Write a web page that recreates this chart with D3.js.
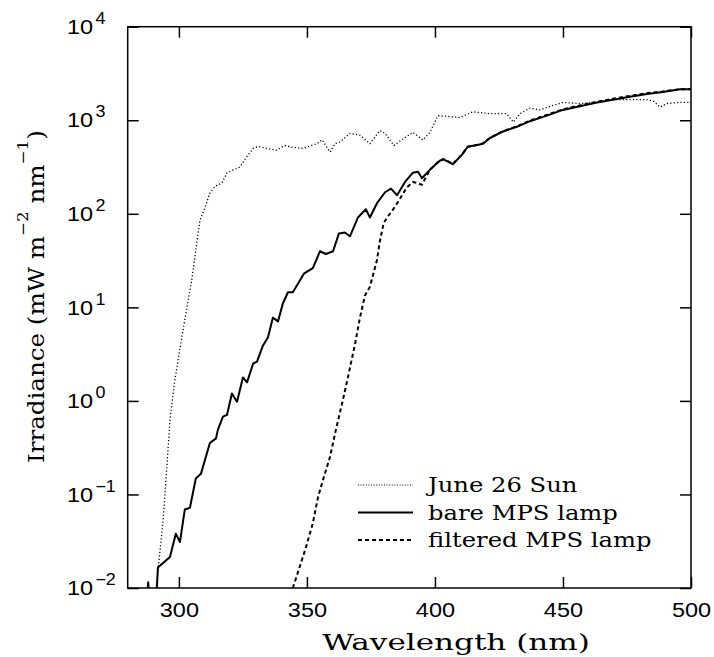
<!DOCTYPE html>
<html>
<head lang="en">
    <meta charset="UTF-8">
    <title>Irradiance</title>
    <style>
        body { margin: 0; background: #fff; }
    </style>
</head>
<body>
<svg width="714" height="657"></svg>
<script src="https://cdn.jsdelivr.net/npm/d3@7"></script>
<script>
    // June 26 Sun (dotted)
    var sunWl = [290.8, 292.0, 293.8, 295.2, 296.5, 298.4, 301.6, 305.0, 308.2, 310.2, 312.1, 314.0, 316.8, 318.8,
        323.8, 326.5, 329.0, 331.0, 334.4, 338.0, 341.4, 344.5, 348.4, 353.9, 355.9, 359.0, 361.0, 363.0, 366.8,
        370.7, 374.6, 378.5, 380.5, 384.0, 387.5, 391.4, 395.3, 398.0, 401.2, 404.7, 409.8, 414.8, 421.5, 428.0,
        430.6, 433.2, 437.1, 441.0, 445.0, 450.0, 456.6, 463.3, 469.5, 476.2, 482.8, 485.5, 487.9, 490.6, 495.7, 500.0];
    var sunVal = [0.008, 0.017, 0.052, 0.18, 0.62, 1.66, 5.7, 19.5, 85, 117, 166, 195, 214, 275,
        316, 407, 500, 525, 500, 479, 537, 513, 500, 562, 617, 457, 562, 589, 724,
        692, 562, 776, 724, 537, 631, 741, 617, 741, 1120, 1100, 1070, 1230, 1175, 1175,
        955, 1175, 1350, 1290, 1410, 1550, 1510, 1550, 1660, 1660, 1660, 1590, 1380, 1510, 1550, 1550];

    // bare MPS lamp (solid)
    var bareWl = [287.4, 288.0, 288.6, 291.2, 291.4, 291.8, 296.5, 298.8, 300.4, 302.3, 304.3, 306.6, 308.6,
        312.1, 314.5, 315.2, 317.2, 318.8, 320.7, 322.7, 325.0, 326.6, 329.0, 330.5, 332.8, 334.8, 336.7, 338.7,
        340.6, 342.6, 344.5, 348.8, 352.3, 355.1, 357.4, 360.2, 362.5, 364.8, 366.8, 369.9, 373.0, 374.6, 377.3,
        380.5, 382.8, 385.2, 388.3, 391.4, 393.4, 394.9, 398.0, 402.0, 403.5, 407.0, 410.5, 412.9, 415.6, 418.7,
        421.5, 426.6, 432.0, 437.1, 443.7, 450.0, 456.6, 463.3, 469.5, 476.2, 482.8, 489.0, 495.7, 500.0];
    var bareVal = [0.007, 0.0115, 0.007, 0.008, 0.010, 0.0166, 0.0214, 0.038, 0.031, 0.069, 0.072, 0.148, 0.166,
        0.355, 0.398, 0.49, 0.68, 0.71, 1.20, 0.98, 1.78, 1.58, 2.51, 2.63, 3.89, 4.79, 7.76, 7.08,
        11.0, 14.5, 14.5, 22.9, 26.3, 39.8, 37.2, 39.8, 61.7, 63.1, 57.5, 91.2, 112, 91.2, 129,
        170, 186, 158, 219, 275, 282, 240, 295, 372, 380, 339, 427, 525, 537, 562,
        646, 759, 851, 977, 1120, 1290, 1410, 1550, 1660, 1780, 1910, 2000, 2140, 2140];

    // filtered MPS lamp (dashed)
    var filtWl = [344.5, 349.2, 352.3, 354.3, 356.2, 359.0, 361.3, 363.7, 366.0, 368.8, 370.7, 372.7, 374.6,
        377.3, 378.5, 380.0, 381.3, 383.0, 385.2, 389.0, 391.4, 393.0, 394.9, 398.0, 402.0, 403.5, 407.0, 410.5,
        412.9, 415.6, 418.7, 421.5, 426.6, 432.0, 437.1, 443.7, 450.0, 456.6, 463.3, 469.5, 476.2, 482.8, 489.0,
        495.7, 500.0];
    var filtVal = [0.010, 0.025, 0.049, 0.093, 0.141, 0.251, 0.49, 0.93, 1.78, 4.07, 7.76, 13.5, 16.6,
        31.6, 51, 80, 91, 105, 129, 191, 219, 214, 204, 295, 375, 385, 342, 430,
        520, 540, 565, 650, 765, 860, 990, 1140, 1310, 1440, 1580, 1700, 1820, 1950, 2030,
        2150, 2150];

    var xTicks = [300, 350, 400, 450, 500];
    var yTicks = [1e-2, 1e-1, 1e0, 1e1, 1e2, 1e3, 1e4];
    var yExp = ["\u22122", "\u22121", "0", "1", "2", "3", "4"];
    var legendNames = ["June 26 Sun", "bare MPS lamp", "filtered MPS lamp"];

    draw();

    function draw() {
        var svg = d3.select("svg"),
            WIDTH = +svg.attr("width"),
            HEIGHT = +svg.attr("height"),
            MARGINS = {top: 26.7, right: 23, bottom: 69, left: 127.7};

        var tickFont = "'Liberation Sans', Arial, sans-serif",
            serifFont = "'DejaVu Serif', serif",
            tickSx = 1.12, legSx = 1.245, xTitleSx = 1.35;

        var xScale = d3.scaleLinear()
            .domain([280, 500])
            .range([MARGINS.left, WIDTH - MARGINS.right]);
        var yScale = d3.scaleLog()
            .domain([1e-2, 1e4])
            .range([HEIGHT - MARGINS.bottom, MARGINS.top]);

        var x0 = MARGINS.left, x1 = WIDTH - MARGINS.right,
            y0 = MARGINS.top, y1 = HEIGHT - MARGINS.bottom;

        svg.append("defs").append("clipPath").attr("id", "plotclip")
            .append("rect")
            .attr("x", x0).attr("y", y0)
            .attr("width", x1 - x0).attr("height", y1 - y0);

        // axes: ticks point inward on all four sides
        var gx = svg.append("g")
            .attr("transform", "translate(0," + y1 + ")")
            .call(d3.axisBottom(xScale).tickValues(xTicks).tickSizeInner(-11).tickSizeOuter(0)
                .tickPadding(14).tickFormat(d3.format("d")));
        gx.selectAll("text")
            .attr("font-family", tickFont).attr("font-size", 21)
            .attr("transform", "scale(" + tickSx + ",1)");

        svg.append("g")
            .attr("transform", "translate(0," + y0 + ")")
            .call(d3.axisTop(xScale).tickValues(xTicks).tickSizeInner(-11).tickSizeOuter(0).tickFormat(""));

        var gy = svg.append("g")
            .attr("transform", "translate(" + x0 + ",0)")
            .call(d3.axisLeft(yScale).tickValues(yTicks).tickSizeInner(-11).tickSizeOuter(0).tickFormat(""));
        gy.selectAll(".tick text").each(function (d, i) {
            var t = d3.select(this)
                .attr("font-family", tickFont).attr("font-size", 21)
                .attr("text-anchor", "start")
                .attr("x", -60.7 / tickSx)
                .attr("transform", "scale(" + tickSx + ",1)");
            t.append("tspan").text("10");
            t.append("tspan").attr("dx", 2).attr("dy", -10).attr("font-size", 16).text(yExp[i]);
        });

        svg.append("g")
            .attr("transform", "translate(" + x1 + ",0)")
            .call(d3.axisRight(yScale).tickValues(yTicks).tickSizeInner(-11).tickSizeOuter(0).tickFormat(""));

        svg.selectAll(".domain").remove();
        svg.selectAll(".tick line").attr("stroke", "#000").attr("stroke-width", 1.5);

        svg.append("rect")
            .attr("x", x0).attr("y", y0)
            .attr("width", x1 - x0).attr("height", y1 - y0)
            .attr("fill", "none").attr("stroke", "#000").attr("stroke-width", 1.5);

        var lineGen = d3.line()
            .x(function (d) { return xScale(d[0]); })
            .y(function (d) { return yScale(d[1]); });

        var series = [
            {wl: sunWl, val: sunVal, width: 1.3, dash: "1.2,2.2"},
            {wl: bareWl, val: bareVal, width: 2, dash: null},
            {wl: filtWl, val: filtVal, width: 2, dash: "4,3"}
        ];

        var plot = svg.append("g").attr("clip-path", "url(#plotclip)");
        series.forEach(function (s) {
            plot.append("path")
                .attr("d", lineGen(d3.zip(s.wl, s.val)))
                .attr("fill", "none")
                .attr("stroke", "#000")
                .attr("stroke-width", s.width)
                .attr("stroke-dasharray", s.dash)
                .attr("stroke-linejoin", "round");
        });

        // legend
        var legY = [485, 512.5, 540];
        legendNames.forEach(function (name, i) {
            var s = series[i];
            svg.append("line")
                .attr("x1", 358).attr("x2", 413)
                .attr("y1", legY[i]).attr("y2", legY[i])
                .attr("stroke", "#000")
                .attr("stroke-width", i === 0 ? 1 : s.width)
                .attr("stroke-dasharray", i === 0 ? "1,1.6" : s.dash);
            svg.append("text")
                .attr("transform", "translate(428," + (legY[i] + 7) + ") scale(" + legSx + ",1)")
                .attr("font-family", serifFont).attr("font-size", 19.5)
                .text(name);
        });

        // axis titles
        svg.append("text")
            .attr("transform", "translate(456,650) scale(" + xTitleSx + ",1)")
            .attr("text-anchor", "middle")
            .attr("font-family", serifFont).attr("font-size", 23)
            .text("Wavelength (nm)");

        var yt = svg.append("text")
            .attr("font-family", serifFont).attr("font-size", 22);
        yt.append("tspan").text("Irradiance (mW m");
        yt.append("tspan").attr("dy", -16).attr("font-size", 15).text("\u22122");
        yt.append("tspan").attr("dy", 16).text(" nm");
        yt.append("tspan").attr("dy", -16).attr("font-size", 15).text("\u22121");
        yt.append("tspan").attr("dy", 16).text(")");
        // stretch the rotated title so it runs from y=463 up to y=130, baseline at x=44
        var len = yt.node().getComputedTextLength();
        var ySx = 333 / len;
        yt.attr("transform", "translate(44,463) rotate(-90) scale(" + ySx + ",1)");
    }
</script>
</body>
</html>
